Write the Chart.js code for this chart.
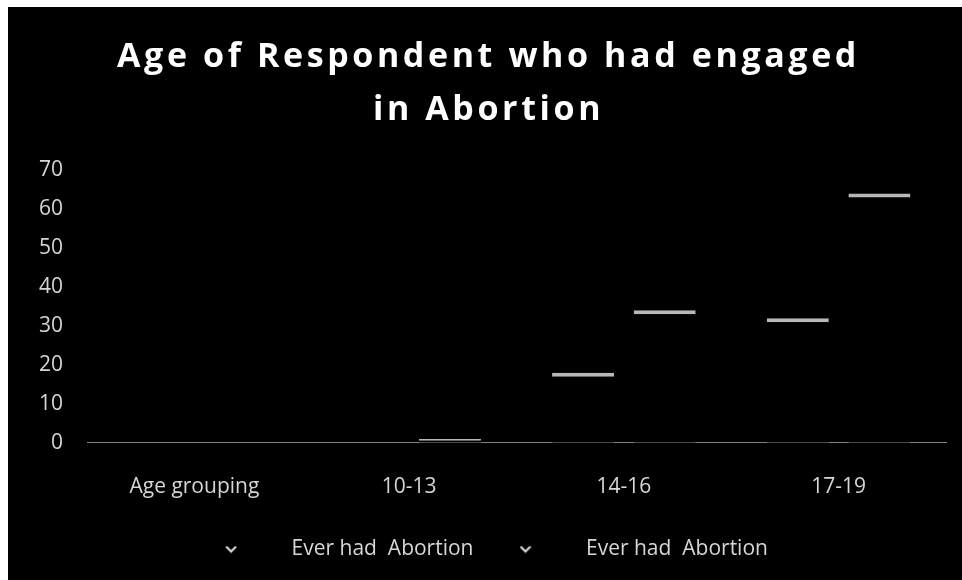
<!DOCTYPE html>
<html>
<head>
<meta charset="utf-8">
<script src="https://cdn.jsdelivr.net/npm/chart.js@4.4.1/dist/chart.umd.min.js"></script>
<style>
  html, body { margin: 0; padding: 0; background: #fff; }
  #wrap { width: 962px; height: 580px; }
</style>
</head>
<body>
<div id="wrap"><canvas id="myBarChart" width="962" height="580"></canvas></div>
<script>
// data
var categories = ['Age grouping', '10-13', '14-16', '17-19']
var everHadA = [0, 0, 18, 32]
var everHadB = [0, 1, 34, 64]
var seriesNames = ['Ever had  Abortion', 'Ever had  Abortion']
var yTicks = [0, 10, 20, 30, 40, 50, 60, 70]

// little chevron used as the legend marker
var chevron = document.createElement('canvas')
chevron.width = 12
chevron.height = 8
var cc = chevron.getContext('2d')
cc.strokeStyle = '#e0e0e0'
cc.lineWidth = 2
cc.beginPath()
cc.moveTo(1, 1)
cc.lineTo(6, 6)
cc.lineTo(11, 1)
cc.stroke()

// black panel with the white scan edge on the left/top
var scanBackground = {
  id: 'scanBackground',
  beforeDraw: function (chart) {
    var ctx = chart.ctx
    ctx.save()
    ctx.fillStyle = '#ffffff'
    ctx.fillRect(0, 0, chart.width, chart.height)
    ctx.fillStyle = '#000000'
    ctx.fillRect(8, 7, chart.width - 8, chart.height - 7)
    ctx.restore()
  },
}

// the title in the scan is spread out, so add some letter spacing to it only
var titleSpacing = {
  id: 'titleSpacing',
  beforeDraw: function (chart) {
    var title = chart.titleBlock
    if (!title || title._spaced) return
    var draw = title.draw
    title.draw = function () {
      chart.ctx.save()
      chart.ctx.letterSpacing = '3.6px'
      chart.ctx.translate(4, 0)
      draw.apply(this, arguments)
      chart.ctx.restore()
    }
    title._spaced = true
  },
}

// legend in the scan sits a bit left of centre
var legendNudge = {
  id: 'legendNudge',
  afterLayout: function (chart) {
    chart.legend.left -= 10
    chart.legend.right -= 10
  },
}

var barStyle = {
  backgroundColor: '#000000',
  borderColor: 'rgba(215,215,215,0.85)',
  borderWidth: { top: 4, left: 0, right: 0, bottom: 0 },
  borderSkipped: false,
  categoryPercentage: 0.76,
  barPercentage: 0.76,
  pointStyle: chevron,
}

var ctx = document.getElementById('myBarChart').getContext('2d')
var myBarChart = new Chart(ctx, {
  type: 'bar',
  data: {
    labels: categories,
    datasets: [
      Object.assign({ label: seriesNames[0], data: everHadA }, barStyle),
      Object.assign({ label: seriesNames[1], data: everHadB }, barStyle),
    ],
  },
  options: {
    responsive: false,
    animation: false,
    layout: { padding: { left: 23, right: 16, top: 31, bottom: 10 } },
    scales: {
      x: {
        grid: { display: false },
        border: { display: true, color: 'rgba(165,165,165,0.8)', width: 1 },
        ticks: {
          color: '#d6d6d6',
          font: { family: 'Open Sans', size: 21 },
          padding: 24,
        },
        afterFit: function (axis) {
          axis.height += 13
        },
      },
      y: {
        min: 0,
        max: 70,
        afterBuildTicks: function (axis) {
          axis.ticks = yTicks.map(function (v) { return { value: v } })
        },
        grid: { display: false },
        border: { display: false },
        ticks: {
          color: '#d6d6d6',
          font: { family: 'Open Sans', size: 21 },
          padding: 16,
        },
      },
    },
    plugins: {
      legend: {
        position: 'bottom',
        labels: {
          color: '#d6d6d6',
          font: { family: 'Open Sans', size: 21 },
          usePointStyle: true,
          pointStyleWidth: 100,
          padding: 2,
        },
      },
      title: {
        display: true,
        text: ['Age of Respondent who had engaged', 'in Abortion'],
        color: '#ffffff',
        font: { family: 'Open Sans', size: 34, weight: 'bold', lineHeight: 1.56 },
        padding: { top: 0, bottom: 33 },
      },
      tooltip: { enabled: false },
    },
  },
  plugins: [scanBackground, titleSpacing, legendNudge],
})
</script>
</body>
</html>
